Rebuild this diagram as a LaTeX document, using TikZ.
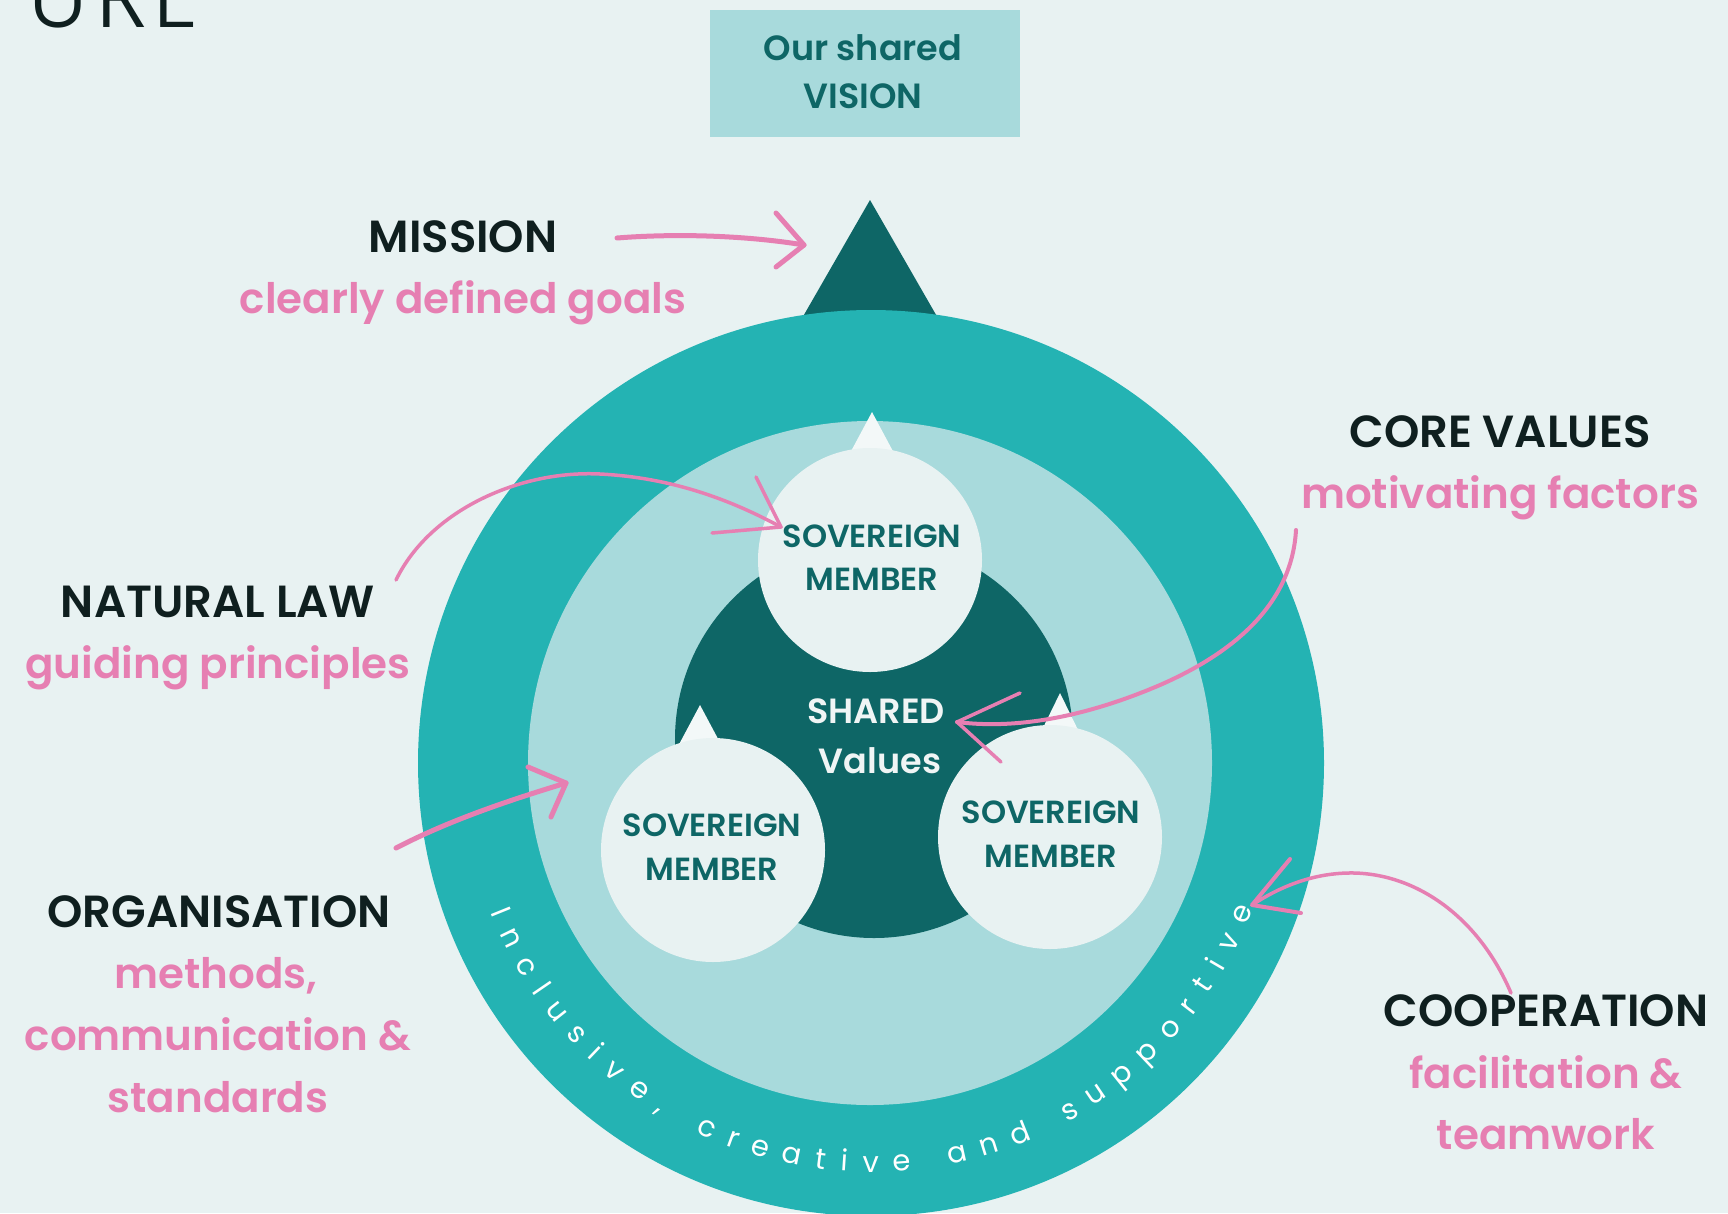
\documentclass[tikz,border=0pt]{standalone}
\usepackage{fontspec}
\setmainfont{Poppins}
\newfontfamily\fmed{Poppins Medium}
\newfontfamily\fsemi{Poppins SemiBold}
\newfontfamily\flight{Poppins Light}
\definecolor{bgc}{HTML}{E8F2F2}
\definecolor{ringc}{HTML}{24B3B3}
\definecolor{lightc}{HTML}{A8DADC}
\definecolor{darkc}{HTML}{0E6666}
\definecolor{memc}{HTML}{E8F2F2}
\definecolor{tric}{HTML}{F3F8F8}
\definecolor{pinkc}{HTML}{E67FB2}
\definecolor{headc}{HTML}{0F1F1F}
\definecolor{valc}{HTML}{F0F5F5}
\begin{document}
\begin{tikzpicture}[x=1pt,y=-1pt,
  heading/.style={anchor=base, text=headc, font=\fsemi\fontsize{45}{45}\selectfont, inner sep=0pt},
  sub/.style={anchor=base, text=pinkc, font=\fsemi\fontsize{42}{42}\selectfont, inner sep=0pt},
  memtext/.style={anchor=base, text=darkc, font=\fsemi\fontsize{32}{32}\selectfont, inner sep=0pt},
  valtext/.style={anchor=base, text=valc, font=\fsemi\fontsize{35}{35}\selectfont, inner sep=0pt},
  vistext/.style={anchor=base, text=darkc, font=\fsemi\fontsize{35}{35}\selectfont, inner sep=0pt},
  titletext/.style={anchor=base west, inner sep=0pt, text=headc, font=\flight\fontsize{90}{90}\selectfont},
  arcchar/.style={anchor=base, inner sep=0pt, text=white, font=\rmfamily\fontsize{29}{29}\selectfont},
  member/.style={circle, fill=memc, minimum size=224pt, inner sep=0pt},
  chalk/.style={draw=pinkc, line width=4pt, line cap=round, line join=round},
  pointer/.style={fill=tric}
]
\useasboundingbox (0,0) rectangle (1728,1213);
\clip (0,0) rectangle (1728,1213);
\fill[bgc] (0,0) rectangle (1728,1213);

% title fragment
\node[titletext] (titleU) at (28,27) {U};
\node[titletext] (titleR) at (96,27) {R};
\node[titletext] (titleE) at (153,27) {E};

% vision box
\node[fill=lightc, minimum width=310pt, minimum height=127pt, inner sep=0pt] (vision) at (865,73.5) {};
\node[vistext] (vis1) at (863,60) {Our shared};
\node[vistext] (vis2) at (863,108) {VISION};

% top triangle
\fill[darkc] (870,200) -- (755,400) -- (985,400) -- cycle;

% rings
\coordinate (ctr) at (871,763);
\fill[ringc] (ctr) circle[radius=453pt];
\fill[lightc] (870,763) circle[radius=342pt];
\fill[darkc] (874,739) circle[radius=199pt];

% pointers of members
\fill[pointer] (872,412) -- (849,455) -- (895,455) -- cycle;
\fill[pointer] (700,705) -- (676,750) -- (724,750) -- cycle;
\fill[pointer] (1060,693) -- (1039,736) -- (1081,736) -- cycle;

% members
\node[member] (mtop) at (870,560) {};
\node[member] (mleft) at (713,850) {};
\node[member] (mright) at (1050,837) {};

\node[memtext] (mt1) at (872,547) {SOVEREIGN};
\node[memtext] (mt2) at (872,590) {MEMBER};
\node[memtext] (ml1) at (712,836) {SOVEREIGN};
\node[memtext] (ml2) at (712,880) {MEMBER};
\node[memtext] (mr1) at (1051,823) {SOVEREIGN};
\node[memtext] (mr2) at (1051,867) {MEMBER};

\node[valtext] (sv1) at (876,723) {SHARED};
\node[valtext] (sv2) at (880,773) {Values};

% labels
\node[heading] (mission) at (463,252) {MISSION};
\node[sub] (missionsub) at (463,313) {clearly defined goals};
\node[heading] (core) at (1500,447) {CORE VALUES};
\node[sub] (coresub) at (1500,508) {motivating factors};
\node[heading] (natural) at (218,617) {NATURAL LAW};
\node[sub] (naturalsub) at (218,678) {guiding principles};
\node[heading] (organ) at (219,927) {ORGANISATION};
\node[sub] (organsub1) at (216,988) {methods,};
\node[sub] (organsub2) at (218,1050) {communication \&};
\node[sub] (organsub3) at (218,1112) {standards};
\node[heading] (coop) at (1546,1026) {COOPERATION};
\node[sub] (coopsub1) at (1546,1088) {facilitation \&};
\node[sub] (coopsub2) at (1546,1149) {teamwork};

% arc text, letter by letter with wide tracking
\gdef\arccum{0}
\foreach \ch/\w [count=\i] in {I/.27,n/.60,c/.55,l/.25,u/.60,s/.46,i/.25,v/.53,e/.57,{,}/.23,
  {}/.30,c/.55,r/.37,e/.57,a/.60,t/.35,i/.25,v/.53,e/.57,
  {}/.30,a/.60,n/.60,d/.62,
  {}/.30,s/.46,u/.60,p/.63,p/.63,o/.60,r/.37,t/.35,i/.25,v/.53,e/.57} {
  \pgfmathsetmacro\pos{\arccum + \w*29/2}
  \pgfmathsetmacro\ang{158 - (\pos - 3.9)/408*57.2958}
  \pgfmathsetmacro\rot{90 - \ang}
  \pgfmathsetmacro\newcum{\arccum + \w*29 + 15.8}
  \xdef\arccum{\newcum}
  \node[arcchar, rotate=\rot] (arc\i) at ([shift={(\ang:409)}]ctr) {\ch};
}

% arrows
\coordinate (ms) at (617,238);
\coordinate (mtip) at (804,245);
\coordinate (mh1) at (776,213);
\coordinate (mh2) at (776,267);
\draw[chalk, line width=5pt] (ms) .. controls (680,233) and (750,236) .. (mtip);
\draw[chalk, line width=5pt] (mh1) -- (mtip) -- (mh2);

\coordinate (ns) at (396,580);
\coordinate (nmid) at (600,474);
\coordinate (ntip) at (781,527);
\coordinate (nh1) at (756,477);
\coordinate (nh2) at (712,533);
\draw[chalk, line width=3.5pt] (ns) .. controls (430,510) and (520,470) .. (nmid) .. controls (680,478) and (740,505) .. (ntip);
\draw[chalk, line width=3.5pt] (nh1) -- (ntip) -- (nh2);

\coordinate (os) at (396,848);
\coordinate (otip) at (566,783);
\coordinate (oh1) at (528,767);
\coordinate (oh2) at (551,817);
\draw[chalk, line width=5pt] (os) .. controls (450,820) and (510,800) .. (otip);
\draw[chalk, line width=5pt] (oh1) -- (otip) -- (oh2);

\coordinate (cs) at (1296,530);
\coordinate (cmid) at (1160,685);
\coordinate (ctip) at (957,722);
\coordinate (ch1) at (1020,693);
\coordinate (ch2) at (1001,762);
\draw[chalk, line width=4pt] (cs) .. controls (1292,600) and (1240,650) .. (cmid) .. controls (1090,715) and (1020,730) .. (ctip);
\draw[chalk, line width=3.5pt] (ch1) -- (ctip) -- (ch2);

\coordinate (ps) at (1511,993);
\coordinate (pmid) at (1355,873);
\coordinate (ptip) at (1252,905);
\coordinate (ph1) at (1290,859);
\coordinate (ph2) at (1301,913);
\draw[chalk, line width=3.5pt] (ps) .. controls (1480,920) and (1420,875) .. (pmid) .. controls (1310,872) and (1275,890) .. (ptip);
\draw[chalk, line width=4pt] (ph1) -- (ptip) -- (ph2);
\end{tikzpicture}
\end{document}
